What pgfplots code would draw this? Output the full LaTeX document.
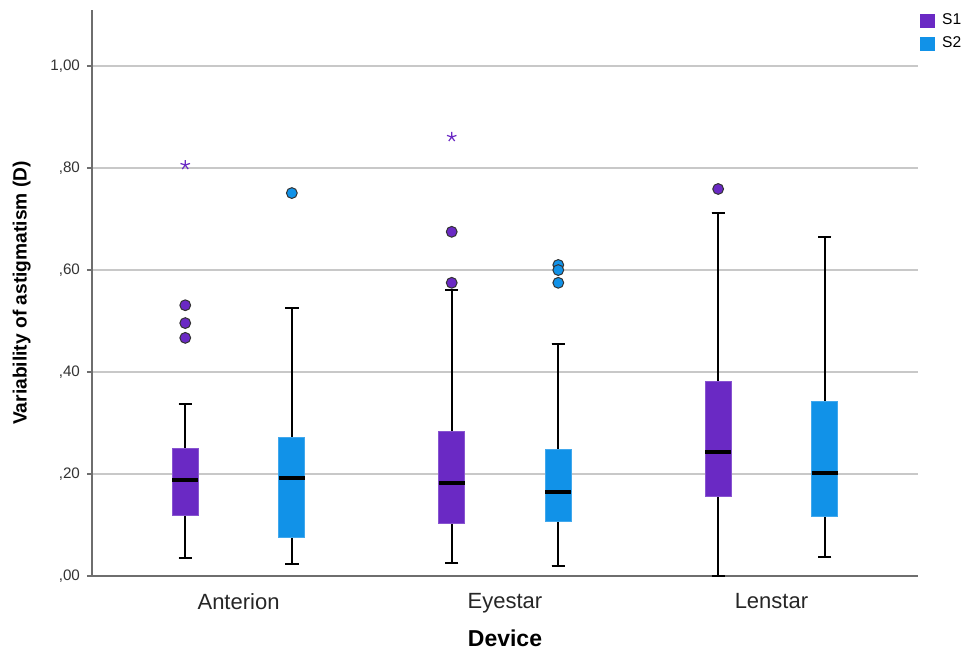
\documentclass[border=0pt]{standalone}
\usepackage{pgfplots}
\pgfplotsset{compat=1.18}
\usepgfplotslibrary{statistics}
\usepackage{fontspec}
\setmainfont{Liberation Sans}
\definecolor{sone}{RGB}{106,41,196}
\definecolor{stwo}{RGB}{17,146,232}
\definecolor{axgray}{RGB}{110,110,110}
\definecolor{gridgray}{RGB}{200,200,200}
\begin{document}
\begin{tikzpicture}
\useasboundingbox (0,0) rectangle (484.5pt,327pt);
\begin{axis}[
  at={(46pt,39pt)}, anchor=south west,
  width=413pt, height=283pt, scale only axis,
  xmin=0.45, xmax=3.55, ymin=0, ymax=1.11,
  axis x line*=bottom, axis y line*=left,
  axis line style={axgray, line width=0.8pt, -},
  xtick={1,2,3}, xticklabels={Anterion,Eyestar,Lenstar},
  x tick style={draw=none},
  xticklabel style={font=\fontsize{11}{13}\selectfont, yshift=-2.5pt, text=black!85},
  ytick={0,0.2,0.4,0.6,0.8,1.0},
  yticklabels={{,00},{,20},{,40},{,60},{,80},{1,00}},
  yticklabel style={font=\fontsize{7.6}{9}\selectfont, text=black!80},
  y tick style={axgray, line width=0.6pt},
  tick align=outside, major tick length=2.5pt,
  ymajorgrids, grid style={gridgray, line width=0.7pt},
  ylabel={\bfseries Variability of astigmatism (D)},
  ylabel style={at={(axis description cs:-0.085,0.5)}, anchor=center, font=\fontsize{9.6}{11}\selectfont},
  xlabel={\bfseries Device},
  xlabel style={at={(axis description cs:0.5,-0.1095)}, anchor=center, font=\fontsize{11.5}{13}\selectfont},
  boxplot/draw direction=y,
  boxplot/box extend=0.098,
  boxplot/whisker extend=0.05,
  boxplot/every median/.style={black, line width=1.7pt},
  boxplot/every whisker/.style={black, line width=1pt},
  legend style={at={(rel axis cs:1,1.005)}, anchor=north west, draw=none, fill=none,
    font=\fontsize{7.8}{9}\selectfont, row sep=0.5pt, inner sep=1pt},
  legend image code/.code={\fill[#1] (0pt,-3.25pt) rectangle (7pt,3.25pt);},
  clip=false,
]
\addlegendimage{sone, fill=sone}
\addlegendentry{\hspace{1.5pt}S1}
\addlegendimage{stwo, fill=stwo}
\addlegendentry{\hspace{1.5pt}S2}

% Anterion
\addplot[boxplot prepared={draw position=0.80, lower whisker=0.035, lower quartile=0.118,
  median=0.188, upper quartile=0.251, upper whisker=0.337},
  draw=sone!80!white, fill=sone, line width=0.5pt] coordinates {};
\addplot[boxplot prepared={draw position=1.20, lower whisker=0.024, lower quartile=0.076,
  median=0.192, upper quartile=0.271, upper whisker=0.525},
  draw=stwo!80!white, fill=stwo, line width=0.5pt] coordinates {};
% Eyestar
\addplot[boxplot prepared={draw position=1.80, lower whisker=0.025, lower quartile=0.102,
  median=0.182, upper quartile=0.284, upper whisker=0.561},
  draw=sone!80!white, fill=sone, line width=0.5pt] coordinates {};
\addplot[boxplot prepared={draw position=2.20, lower whisker=0.020, lower quartile=0.106,
  median=0.165, upper quartile=0.249, upper whisker=0.455},
  draw=stwo!80!white, fill=stwo, line width=0.5pt] coordinates {};
% Lenstar
\addplot[boxplot prepared={draw position=2.80, lower whisker=0.0, lower quartile=0.155,
  median=0.243, upper quartile=0.382, upper whisker=0.712},
  draw=sone!80!white, fill=sone, line width=0.5pt] coordinates {};
\addplot[boxplot prepared={draw position=3.20, lower whisker=0.037, lower quartile=0.116,
  median=0.202, upper quartile=0.343, upper whisker=0.665},
  draw=stwo!80!white, fill=stwo, line width=0.5pt] coordinates {};

% outliers (circles)
\addplot[only marks, mark=*, mark size=2.7pt, mark options={fill=sone, draw=black!80, line width=0.5pt}]
  coordinates {(0.80,0.531) (0.80,0.496) (0.80,0.467) (1.80,0.675) (1.80,0.575) (2.80,0.759)};
\addplot[only marks, mark=*, mark size=2.7pt, mark options={fill=stwo, draw=black!80, line width=0.5pt}]
  coordinates {(1.20,0.751) (2.20,0.610) (2.20,0.600) (2.20,0.575)};
% extreme values (stars)
\addplot[only marks, mark=star, mark size=2.5pt, mark options={sone, fill=sone, line width=0.6pt}]
  coordinates {(0.80,0.806) (1.80,0.861)};
\end{axis}
\end{tikzpicture}
\end{document}
